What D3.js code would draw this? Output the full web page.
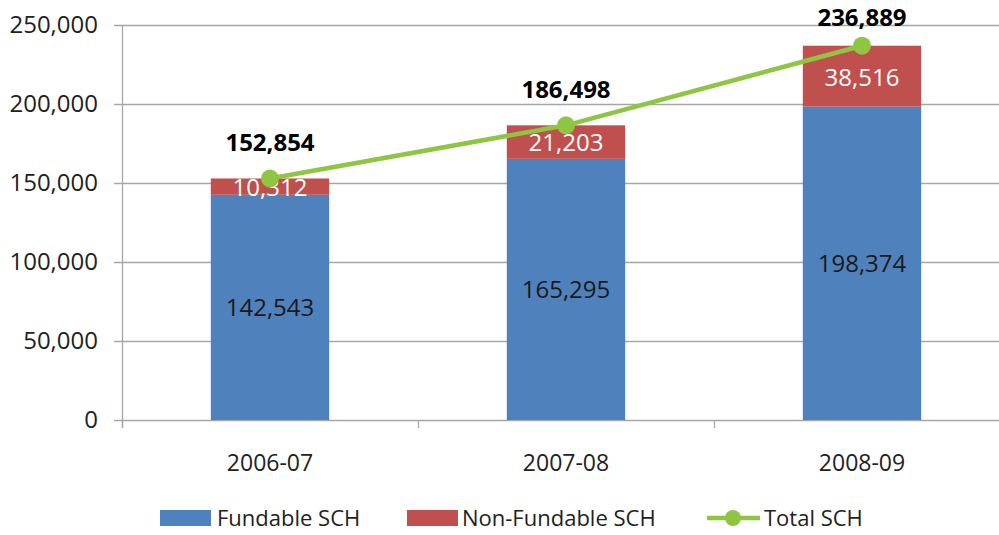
<!DOCTYPE html>
<html>
<head>
<meta charset="utf-8">
<script src="https://cdn.jsdelivr.net/npm/d3@7"></script>
<style>
body { margin: 0; background: #fff; }
svg text { font-family: "Open Sans", "Noto Sans", sans-serif; }
</style>
</head>
<body>
<svg id="chart" width="999" height="535"></svg>
<script>
var years = ['2006-07', '2007-08', '2008-09'];
var fundable = [142543, 165295, 198374];
var nonFundable = [10312, 21203, 38516];
var total = [152854, 186498, 236889];
var yTicks = [0, 50000, 100000, 150000, 200000, 250000];

var svg = d3.select('#chart');
var fmt = d3.format(',');

// plot box (right side of the original is cut off)
var plotLeft = 122, plotRight = 1010, plotTop = 25, plotBottom = 420;

var x = d3.scaleBand().domain(years).range([plotLeft, plotRight]).paddingInner(0.6).paddingOuter(0.3);
var y = d3.scaleLinear().domain([0, 250000]).range([plotBottom, plotTop]);

// gridlines
svg.append('g').selectAll('line')
	.data(yTicks)
	.enter().append('line')
		.attr('x1', plotLeft - 8).attr('x2', 999)
		.attr('y1', function(d){ return y(d) + 0.5 })
		.attr('y2', function(d){ return y(d) + 0.5 })
		.attr('stroke', '#a6a6a6').attr('stroke-width', 1.3)

// y axis line
svg.append('line')
	.attr('x1', plotLeft + 0.5).attr('x2', plotLeft + 0.5)
	.attr('y1', plotTop).attr('y2', plotBottom + 8)
	.attr('stroke', '#a6a6a6').attr('stroke-width', 1.3)

// x category ticks at band edges
var step = x.step();
svg.append('g').selectAll('line')
	.data(d3.range(years.length))
	.enter().append('line')
		.attr('x1', function(i){ return plotLeft + i*step + 0.5 })
		.attr('x2', function(i){ return plotLeft + i*step + 0.5 })
		.attr('y1', plotBottom).attr('y2', plotBottom + 8)
		.attr('stroke', '#a6a6a6').attr('stroke-width', 1.3)

// y tick labels
svg.append('g').selectAll('text')
	.data(yTicks)
	.enter().append('text')
		.attr('x', 98).attr('y', function(d){ return y(d) })
		.attr('dy', '0.35em')
		.attr('text-anchor', 'end')
		.attr('font-size', 24)
		.attr('fill', '#222')
		.text(function(d){ return fmt(d) })

// x labels
svg.append('g').selectAll('text')
	.data(years)
	.enter().append('text')
		.attr('x', function(d){ return x(d) + x.bandwidth()/2 })
		.attr('y', 463).attr('dy', '0.35em')
		.attr('text-anchor', 'middle')
		.attr('font-size', 23)
		.attr('fill', '#222')
		.text(function(d){ return d })

// bars
var bars = svg.append('g');
years.forEach(function(yr, i){
	bars.append('rect')
		.attr('x', x(yr)).attr('width', x.bandwidth())
		.attr('y', y(fundable[i])).attr('height', y(0) - y(fundable[i]))
		.attr('fill', '#4f81bd')
	bars.append('rect')
		.attr('x', x(yr)).attr('width', x.bandwidth())
		.attr('y', y(fundable[i] + nonFundable[i])).attr('height', y(fundable[i]) - y(fundable[i] + nonFundable[i]))
		.attr('fill', '#c0504d')
});

// segment labels
years.forEach(function(yr, i){
	var cx = x(yr) + x.bandwidth()/2;
	svg.append('text')
		.attr('x', cx).attr('y', (y(0) + y(fundable[i]))/2).attr('dy', '0.35em')
		.attr('text-anchor', 'middle').attr('font-size', 24).attr('fill', '#1a1a1a')
		.text(fmt(fundable[i]))
	svg.append('text')
		.attr('x', cx).attr('y', (y(fundable[i]) + y(fundable[i] + nonFundable[i]))/2 + 1).attr('dy', '0.35em')
		.attr('text-anchor', 'middle').attr('font-size', 24).attr('fill', '#fff')
		.text(fmt(nonFundable[i]))
});

// total line
var line = d3.line()
	.x(function(d, i){ return x(years[i]) + x.bandwidth()/2 })
	.y(function(d){ return y(d) })
svg.append('path')
	.datum(total)
	.attr('d', line)
	.attr('fill', 'none')
	.attr('stroke', '#8ec641').attr('stroke-width', 4.5)

svg.append('g').selectAll('circle')
	.data(total)
	.enter().append('circle')
		.attr('cx', function(d, i){ return x(years[i]) + x.bandwidth()/2 })
		.attr('cy', function(d){ return y(d) })
		.attr('r', 9)
		.attr('fill', '#8ec641')

svg.append('g').selectAll('text')
	.data(total)
	.enter().append('text')
		.attr('x', function(d, i){ return x(years[i]) + x.bandwidth()/2 })
		.attr('y', function(d){ return Math.max(y(d) - 36, 18) })
		.attr('dy', '0.35em')
		.attr('text-anchor', 'middle')
		.attr('font-size', 24).attr('font-weight', 'bold')
		.attr('fill', '#000')
		.text(function(d){ return fmt(d) })

// legend
var lg = svg.append('g').attr('font-size', 22).attr('fill', '#222');
lg.append('rect').attr('x', 160).attr('y', 510).attr('width', 51).attr('height', 16).attr('fill', '#4f81bd')
lg.append('text').attr('x', 217).attr('y', 518).attr('dy', '0.35em').text('Fundable SCH')
lg.append('rect').attr('x', 407).attr('y', 510).attr('width', 51).attr('height', 16).attr('fill', '#c0504d')
lg.append('text').attr('x', 462).attr('y', 518).attr('dy', '0.35em').text('Non-Fundable SCH')
lg.append('line').attr('x1', 707).attr('x2', 760).attr('y1', 518).attr('y2', 518)
	.attr('stroke', '#8ec641').attr('stroke-width', 4.5)
lg.append('circle').attr('cx', 733).attr('cy', 518).attr('r', 8).attr('fill', '#8ec641')
lg.append('text').attr('x', 764).attr('y', 518).attr('dy', '0.35em').text('Total SCH')
</script>
</body>
</html>
